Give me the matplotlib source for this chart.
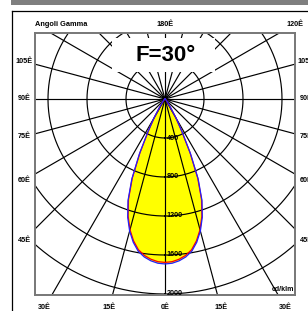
import numpy as np
import matplotlib

matplotlib.use("Agg")
import matplotlib.pyplot as plt
from matplotlib.lines import Line2D
from matplotlib.patches import Rectangle

plt.rcParams["font.family"] = ["Liberation Sans", "DejaVu Sans"]

# gamma angle (deg) and luminous intensity (cd/klm), two C-planes
gamma = [0, 2.5, 5, 7.5, 10, 12.5, 15, 17.5, 20, 22.5, 25, 27.5, 30, 32.5, 35, 40, 45, 50, 60, 75, 90]
intensity_c0 = [1676, 1670, 1650, 1618, 1570, 1490, 1388, 1258, 1095, 876, 606, 368, 220, 112, 64, 30, 15, 8, 4, 1, 0]
intensity_c90 = [1692, 1686, 1666, 1634, 1585, 1505, 1402, 1272, 1110, 890, 620, 380, 230, 120, 70, 35, 18, 10, 5, 2, 0]

ring_values = [400, 800, 1200, 1600, 2000]
spoke_angles = np.arange(0, 360, 15)

left_labels = [105, 90, 75, 60, 45]
right_labels = [105, 90, 75, 60, 45]
bottom_labels = [-30, -15, 0, 15, 30]
top_labels = [180, 120]

PX = 400 / 39.0  # cd/klm per pixel
W, H = 308, 311


def polar_xy(g_deg, r):
    g = np.radians(np.asarray(g_deg, dtype=float))
    r = np.asarray(r, dtype=float)
    return r * np.sin(g), -r * np.cos(g)


def mirrored(g, vals):
    g = np.asarray(g, dtype=float)
    v = np.asarray(vals, dtype=float)
    return np.concatenate([-g[::-1], g[1:]]), np.concatenate([v[::-1], v[1:]])


fig = plt.figure(figsize=(W / 100, H / 100), dpi=100)
ax = fig.add_axes([35 / W, (H - 295) / H, 260 / W, 262 / H])
ax.set_xlim(-130 * PX, 130 * PX)
ax.set_ylim(-196 * PX, 66 * PX)
ax.set_aspect("equal")
ax.set_xticks([])
ax.set_yticks([])
for sp in ax.spines.values():
    sp.set_color("#777777")
    sp.set_linewidth(1.4)

# lobe
g_full, v90 = mirrored(gamma, intensity_c90)
_, v0 = mirrored(gamma, intensity_c0)
bx, by = polar_xy(g_full, v90)
rx, ry = polar_xy(g_full, v0)
ax.fill(bx, by, color="#ffff00", zorder=1, lw=0)
ax.plot(rx, ry, color="red", lw=0.9, zorder=3)
ax.plot(bx, by, color="#2020ff", lw=0.9, zorder=3)

# grid
theta = np.linspace(0, 360, 721)
for rv in ring_values:
    x, y = polar_xy(theta, np.full_like(theta, rv))
    ax.plot(x, y, color="black", lw=0.85, zorder=2)
for a in spoke_angles:
    x, y = polar_xy([a, a], [0, 3000])
    ax.plot(x, y, color="black", lw=0.85, zorder=2)

for rv in ring_values:
    ax.text(1.5 * PX, -rv, str(rv), fontsize=5.2, fontweight="bold",
            ha="left", va="center", zorder=4)

ax.text(0.997, 0.008, "cd/klm", transform=ax.transAxes, fontsize=5,
        fontweight="bold", ha="right", va="bottom", zorder=4)

# title with white background
ax.add_patch(Rectangle((0.296, 0.851), 0.396, 0.13, transform=ax.transAxes,
                       facecolor="white", edgecolor="none", zorder=5))
ax.text(0.504, 0.914, "F=30°", transform=ax.transAxes, fontsize=16,
        fontweight="bold", ha="center", va="center", zorder=6)

# angle labels placed on a rectangle around the plot
lab_x = 141 * PX
lab_top = 75 * PX
lab_bot = 209 * PX
lab_kw = dict(fontsize=5.2, fontweight="bold", ha="center", va="center",
              clip_on=False, zorder=6)
for a in left_labels:
    g = np.radians(a)
    ax.text(-lab_x, -lab_x / np.tan(g), f"{a}Ê", **lab_kw)
for a in right_labels:
    g = np.radians(a)
    ax.text(lab_x, -lab_x / np.tan(g), f"{a}Ê", **lab_kw)
for a in bottom_labels:
    ax.text(lab_bot * np.tan(np.radians(a)), -lab_bot, f"{abs(a)}Ê", **lab_kw)
for a in top_labels:
    g = np.radians(a)
    ax.text(-lab_top * np.tan(g), lab_top, f"{a}Ê", **lab_kw)
ax.text(0.0, lab_top, "Angoli Gamma", ha="left", va="center", fontsize=5.3,
        fontweight="bold", clip_on=False, transform=ax.get_yaxis_transform())

# page decorations
fig.add_artist(Rectangle((11 / W, (H - 4.5) / H), 1, 4.5 / H,
                         transform=fig.transFigure, facecolor="#7f7f7f",
                         edgecolor="none"))
fig.add_artist(Line2D([12 / W, 1], [(H - 10.5) / H] * 2, color="black", lw=0.9,
                      transform=fig.transFigure))
fig.add_artist(Line2D([12 / W] * 2, [0, (H - 10.5) / H], color="black", lw=0.9,
                      transform=fig.transFigure))

fig.savefig("out.png", dpi=100)
